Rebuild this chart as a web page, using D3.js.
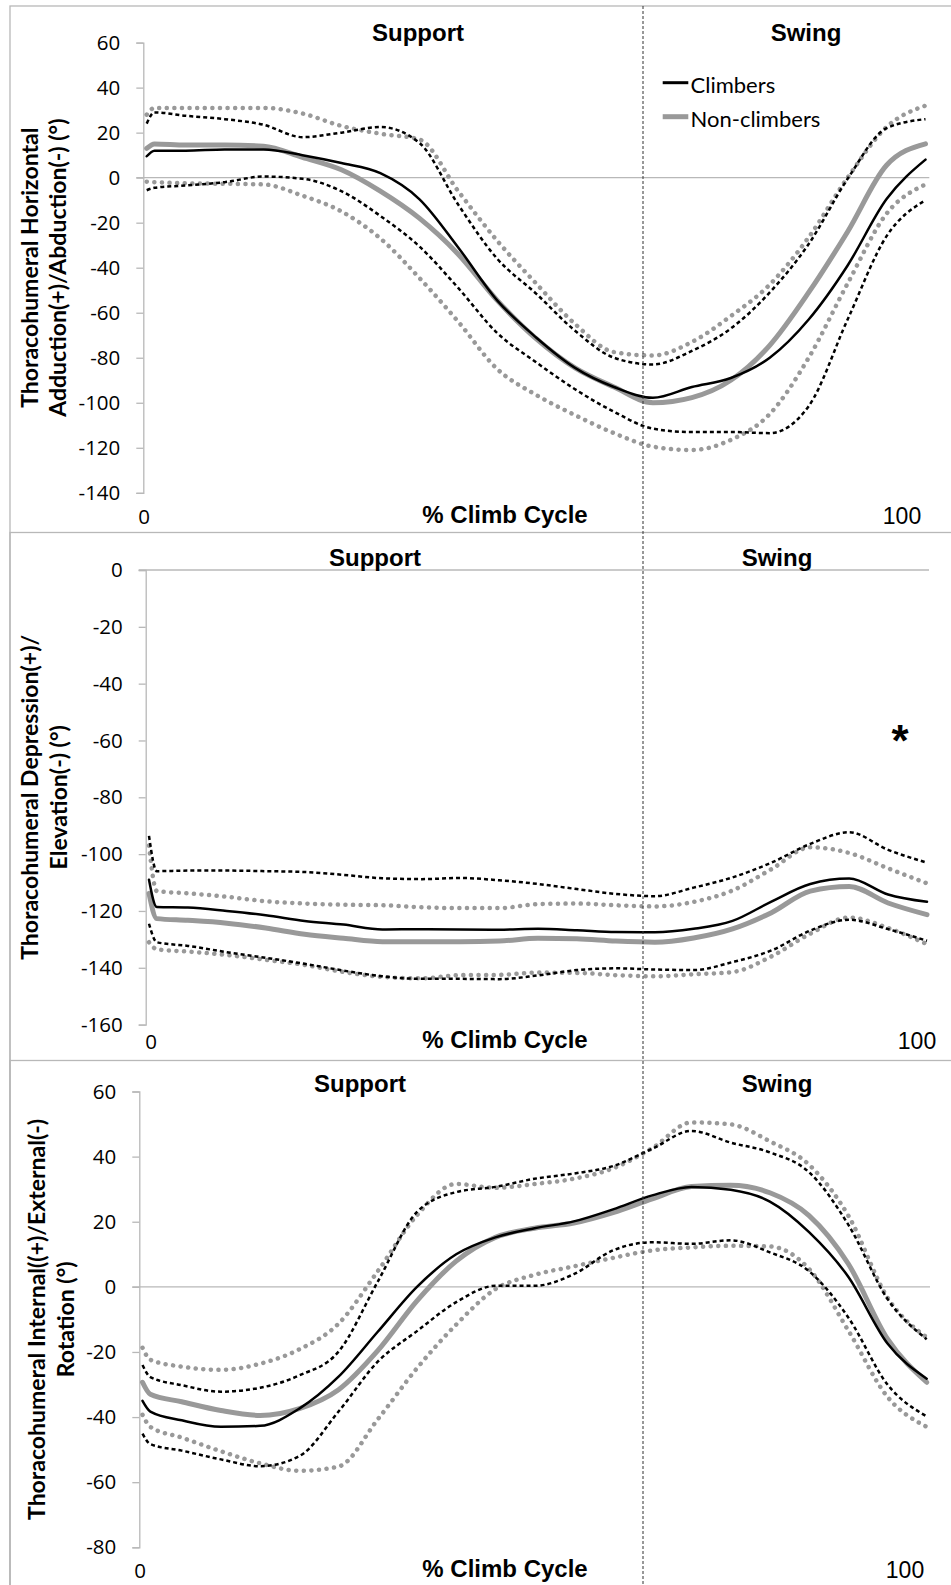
<!DOCTYPE html>
<html>
<head>
<meta charset="utf-8">
<script src="https://cdn.jsdelivr.net/npm/d3@7/dist/d3.min.js"></script>
<style>
body { margin: 0; background: #fff; }
text { fill: #000; }
.calibri { font-family: Lato, "Open Sans", sans-serif; }
.num { font-family: "Open Sans", Lato, sans-serif; }
.arial { font-family: "Liberation Sans", Arial, sans-serif; }
</style>
</head>
<body>
<svg id="chart" width="951" height="1585"></svg>
<script>
// % of climb cycle where each value was read
const pct = [0, 1, 5, 10, 15, 20, 25, 30, 35, 40, 45, 50, 55, 60, 65, 70, 75, 80, 85, 90, 95, 100]

// panel 1: horizontal adduction(+)/abduction(-)
const haClimbers = [9.5, 12, 12, 12.5, 12.5, 10, 6.5, 2, -9.5, -31, -54.5, -71, -84.5, -93, -97.8, -93, -89, -80, -63, -39, -9.5, 8]
const haClimbersUp = [24, 29, 27.5, 26, 23.5, 18, 20, 22.5, 15.5, -12, -36, -51.5, -68, -80, -83, -77, -67, -51, -29.5, -0.5, 22, 26]
const haClimbersLo = [-5.6, -4.5, -3.5, -2, 0.5, -0.5, -6, -17, -30.5, -49, -69, -82, -94, -104, -111.5, -113, -113, -113.5, -101.5, -63, -26, -10]
const haNon = [13, 15, 14.5, 14.5, 14, 9, 3.5, -6, -18, -34, -54.5, -71.5, -84.5, -93, -100, -97.7, -90, -74.5, -51, -24, 5.5, 15]
const haNonUp = [28, 31, 31, 31, 31, 28.5, 23, 19.5, 17, -6, -28, -47, -65, -77.5, -79, -73, -61.5, -47.5, -26.5, 0, 22.5, 32]
const haNonLo = [-1.8, -2, -2.5, -2.7, -3, -8, -15, -27, -44.5, -64, -85, -96.5, -105.5, -113.5, -119.5, -121, -116.5, -105, -80, -47, -16, -3]

// panel 2: depression(+)/elevation(-)
const deClimbers = [-109, -118.6, -118.8, -120, -121.5, -123.5, -124.8, -126.5, -126.4, -126.5, -126.6, -126.3, -126.8, -127.4, -127.5, -126.3, -123.5, -116.7, -110.5, -108.6, -114.2, -116.8]
const deClimbersUp = [-93.6, -106, -105.8, -105.8, -106, -106.3, -107.3, -108.5, -108.8, -108.4, -109.2, -110.5, -112.3, -114, -114.8, -111.8, -108.2, -103, -96.4, -92.3, -98.5, -103]
const deClimbersLo = [-124.5, -131, -132.3, -134.5, -136.5, -138.6, -141, -143, -143.9, -143.9, -144, -142.7, -140.8, -140.2, -140.6, -140.8, -138, -133.9, -126.9, -123.1, -126.4, -130.5]
const deNon = [-113.8, -122.7, -123.3, -124.3, -126, -128.2, -129.6, -130.8, -130.8, -130.8, -130.6, -129.6, -129.8, -130.6, -131, -129.5, -126.3, -120.6, -113, -111.4, -117.2, -121.3]
const deNonUp = [-97, -113, -113.8, -115, -116.6, -117.4, -117.8, -118, -118.7, -119, -119, -117.6, -117.4, -118, -118.4, -116.8, -112.8, -105.3, -97.6, -99.6, -105, -110.3]
const deNonLo = [-131, -133.5, -134.3, -135.5, -137.2, -139, -141.5, -143.2, -143.7, -142.6, -142.5, -141.7, -141.8, -142.6, -143, -142.3, -141.5, -136, -128, -122.3, -126, -131.7]

// panel 3: internal(+)/external(-) rotation
const irClimbers = [-35, -38.3, -41, -43, -42.7, -37.4, -27.6, -13.8, 0, 10, 15.2, 18, 20.1, 23.8, 28.1, 30.7, 29.8, 26.2, 16.8, 3.1, -17.4, -28.2]
const irClimbersUp = [-24, -27.7, -30.2, -32.2, -31, -27.2, -19.9, 1.6, 23, 29.1, 30.7, 33.2, 34.8, 37.1, 42.4, 47.9, 44.3, 41.3, 35.2, 19.1, -3.7, -16.1]
const irClimbersLo = [-45.1, -48.3, -50.3, -53, -55.1, -52, -38.3, -23, -13.6, -4.7, 0.3, 0.3, 3.9, 11.2, 13.7, 13.2, 14.3, 10.6, 4.8, -9.4, -30, -39.8]
const irNon = [-29.3, -33, -35.3, -38, -39.5, -37.4, -31.6, -19.6, -4.3, 7.9, 15.2, 18, 19.6, 22.8, 27, 30.8, 31.2, 28.9, 21.9, 7.1, -16, -29.3]
const irNonUp = [-18.7, -22.4, -24.5, -25.5, -23.6, -19.2, -11.3, 4.8, 22, 31.6, 30.4, 31.6, 33.2, 36.4, 42.6, 50.5, 49.9, 44.7, 37.5, 21.9, -3.3, -15.5]
const irNonLo = [-39.3, -43, -46.3, -50.5, -54.2, -56.5, -55.2, -40.7, -25, -11.6, -0.7, 3.7, 6.3, 8.9, 11.2, 12.1, 12.6, 12.4, 5.5, -13.4, -33.8, -43]

const groups = ["Climbers", "Non-climbers"]
const phases = ["Support", "Swing"]
const xTitle = "% Climb Cycle"
const xTickLabels = ["0", "100"]

const panels = [
    {
        title: ["Thoracohumeral Horizontal", "Adduction(+)/Abduction(-) (°)"],
        yDomain: [-140, 60], yTicks: d3.range(-140, 61, 20), baseline: 0,
        series: [haNonUp, haNonLo, haClimbersUp, haClimbersLo, haNon, haClimbers],
        top: 6, yRange: [492.8, 42.6], axisX: 143.3, right: 929.3, dataX: [146.7, 925.5],
        titleX: [38, 66], phaseX: [418, 806], phaseY: 40.5,
        zeroLabelX: 144, xLabelY: 524, hundredX: 902, legend: true
    },
    {
        title: ["Thoracohumeral Depression(+)/", "Elevation(-) (°)"],
        yDomain: [-160, 0], yTicks: d3.range(-160, 1, 20), baseline: 0,
        series: [deNonUp, deNonLo, deClimbersUp, deClimbersLo, deNon, deClimbers],
        top: 532.5, yRange: [1024.6, 570], axisX: 145.7, right: 929, dataX: [149, 927],
        titleX: [38, 67], phaseX: [375, 777], phaseY: 565.5,
        zeroLabelX: 151, xLabelY: 1049, hundredX: 917, asterisk: true
    },
    {
        title: ["Thoracohumeral Internal((+)/External(-)", "Rotation (°)"],
        yDomain: [-80, 60], yTicks: d3.range(-80, 61, 20), baseline: 0,
        series: [irNonUp, irNonLo, irClimbersUp, irClimbersLo, irNon, irClimbers],
        top: 1060.5, yRange: [1547.3, 1091.5], axisX: 139.3, right: 930, dataX: [142.5, 926.7],
        titleX: [45, 74], phaseX: [360, 777], phaseY: 1091.5,
        zeroLabelX: 140, xLabelY: 1578, hundredX: 905
    }
]

// nonUp, nonLo, climbUp, climbLo, nonMean, climbMean
const lineStyles = [
    { stroke: "#999", width: 4.5, dash: "0.1,7.5", cap: "round" },
    { stroke: "#999", width: 4.5, dash: "0.1,7.5", cap: "round" },
    { stroke: "#000", width: 2.5, dash: "4,3", cap: "butt" },
    { stroke: "#000", width: 2.5, dash: "4,3", cap: "butt" },
    { stroke: "#999", width: 5, dash: null, cap: "round" },
    { stroke: "#000", width: 2.5, dash: null, cap: "round" }
]

const axisColor = "#b8b8b8"
const svg = d3.select("#chart")
const phaseLineX = 643

panels.forEach(p => {
    const g = svg.append("g")
    const x = d3.scaleLinear().domain([0, 100]).range(p.dataX)
    const y = d3.scaleLinear().domain(p.yDomain).range(p.yRange)

    // panel frame
    g.append("rect")
        .attr("x", 10).attr("y", p.top)
        .attr("width", 960).attr("height", 1600)
        .attr("fill", "none").attr("stroke", axisColor).attr("stroke-width", 1.3)

    // y axis, plain hyphen minus like the original
    const yAxis = d3.axisLeft(y).tickValues(p.yTicks).tickSize(7).tickPadding(16)
        .tickFormat(d => String(d))
    const ya = g.append("g").attr("transform", `translate(${p.axisX},0)`).call(yAxis)
    ya.select(".domain").attr("stroke", axisColor).attr("stroke-width", 1.3)
    ya.selectAll(".tick line").attr("stroke", axisColor).attr("stroke-width", 1.3)
    ya.selectAll(".tick text")
        .attr("class", "num").attr("font-size", 20.5).attr("fill", "#000")

    // horizontal axis at 0
    g.append("line")
        .attr("x1", p.axisX - 7).attr("x2", p.right)
        .attr("y1", y(p.baseline)).attr("y2", y(p.baseline))
        .attr("stroke", axisColor).attr("stroke-width", 1.3)

    // y title
    p.title.forEach((t, i) => {
        g.append("text")
            .attr("class", "calibri")
            .attr("transform", `translate(${p.titleX[i]},${(p.yRange[0] + p.yRange[1]) / 2}) rotate(-90)`)
            .attr("text-anchor", "middle")
            .attr("font-size", 23).attr("font-weight", 700)
            .text(t)
    })

    // x labels
    g.append("text").attr("class", "num")
        .attr("x", p.zeroLabelX).attr("y", p.xLabelY)
        .attr("text-anchor", "middle").attr("font-size", 20.5)
        .text(xTickLabels[0])
    g.append("text").attr("class", "arial")
        .attr("x", p.hundredX).attr("y", p.xLabelY)
        .attr("text-anchor", "middle").attr("font-size", 23)
        .text(xTickLabels[1])
    g.append("text").attr("class", "arial")
        .attr("x", 505).attr("y", p.xLabelY - 1)
        .attr("text-anchor", "middle").attr("font-size", 24).attr("font-weight", 700)
        .text(xTitle)

    // phase labels
    phases.forEach((ph, i) => {
        g.append("text").attr("class", "arial")
            .attr("x", p.phaseX[i]).attr("y", p.phaseY)
            .attr("text-anchor", "middle").attr("font-size", 24).attr("font-weight", 700)
            .text(ph)
    })

    // lines
    const line = d3.line()
        .x((d, i) => x(pct[i]))
        .y(d => y(d))
        .curve(d3.curveMonotoneX)
    g.selectAll("path.series").data(p.series).enter()
        .append("path")
        .attr("class", "series")
        .attr("d", d => line(d))
        .attr("fill", "none")
        .attr("stroke", (d, i) => lineStyles[i].stroke)
        .attr("stroke-width", (d, i) => lineStyles[i].width)
        .attr("stroke-dasharray", (d, i) => lineStyles[i].dash)
        .attr("stroke-linecap", (d, i) => lineStyles[i].cap)
        .attr("stroke-linejoin", "round")

    if (p.asterisk) {
        g.append("text").attr("class", "arial")
            .attr("x", 900).attr("y", 756)
            .attr("text-anchor", "middle").attr("font-size", 44).attr("font-weight", 700)
            .text("*")
    }

    if (p.legend) {
        const leg = g.append("g")
        const legStyles = [lineStyles[5], lineStyles[4]]
        groups.forEach((name, i) => {
            const ly = 82.7 + i * 34
            leg.append("line")
                .attr("x1", 662.7).attr("x2", 688.3).attr("y1", ly).attr("y2", ly)
                .attr("stroke", legStyles[i].stroke).attr("stroke-width", i ? 5 : 3)
            leg.append("text").attr("class", "calibri")
                .attr("x", 690.5).attr("y", ly + 10.5)
                .attr("font-size", 22)
                .text(name)
        })
    }
})

// support / swing divider
svg.append("line")
    .attr("x1", phaseLineX).attr("x2", phaseLineX)
    .attr("y1", 6).attr("y2", 1585)
    .attr("stroke", "#333").attr("stroke-width", 1)
    .attr("stroke-dasharray", "3,2")
</script>
</body>
</html>
